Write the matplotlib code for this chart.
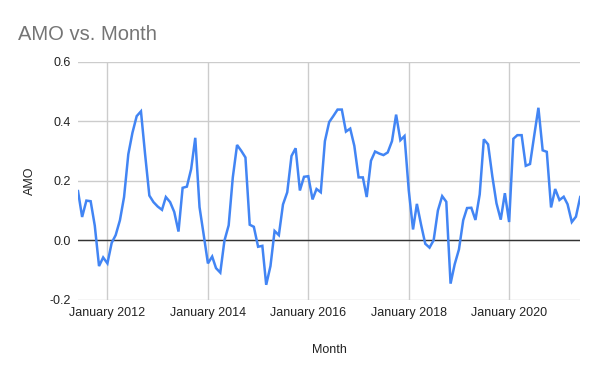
import numpy as np
import pandas as pd
import matplotlib
matplotlib.use("Agg")
import matplotlib.pyplot as plt
import matplotlib.dates as mdates

# Monthly AMO values, June 2011 .. June 2021
start_month = "2011-06-01"
amo_2011 = [0.166, 0.079, 0.134, 0.132, 0.05, -0.086, -0.057]
amo_2012 = [-0.077, -0.008, 0.018, 0.068, 0.146, 0.29, 0.362, 0.418, 0.434, 0.29, 0.151, 0.129]
amo_2013 = [0.114, 0.103, 0.146, 0.129, 0.096, 0.03, 0.177, 0.181, 0.24, 0.345, 0.112, 0.02]
amo_2014 = [-0.077, -0.054, -0.093, -0.108, -0.001, 0.051, 0.212, 0.321, 0.301, 0.279, 0.053, 0.046]
amo_2015 = [-0.021, -0.018, -0.149, -0.086, 0.032, 0.018, 0.121, 0.162, 0.284, 0.31, 0.168, 0.214]
amo_2016 = [0.216, 0.138, 0.173, 0.162, 0.334, 0.398, 0.418, 0.44, 0.44, 0.366, 0.376, 0.318]
amo_2017 = [0.212, 0.212, 0.146, 0.268, 0.299, 0.292, 0.287, 0.296, 0.334, 0.423, 0.337, 0.351]
amo_2018 = [0.168, 0.037, 0.123, 0.052, -0.011, -0.024, 0.001, 0.101, 0.149, 0.13, -0.145, -0.08]
amo_2019 = [-0.03, 0.068, 0.109, 0.11, 0.069, 0.155, 0.34, 0.323, 0.215, 0.125, 0.07, 0.159]
amo_2020 = [0.062, 0.342, 0.354, 0.354, 0.251, 0.257, 0.351, 0.446, 0.303, 0.298, 0.111, 0.173]
amo_2021 = [0.136, 0.147, 0.122, 0.062, 0.08, 0.146]

y_ticks = [-0.2, 0.0, 0.2, 0.4, 0.6]
y_tick_labels = ["-0.2", "0.0", "0.2", "0.4", "0.6"]
x_tick_years = [2012, 2014, 2016, 2018, 2020]

amo = (amo_2011 + amo_2012 + amo_2013 + amo_2014 + amo_2015 + amo_2016
       + amo_2017 + amo_2018 + amo_2019 + amo_2020 + amo_2021)
months = pd.date_range(start_month, periods=len(amo), freq="MS")

plt.rcParams["font.family"] = ["Liberation Sans", "DejaVu Sans"]

fig = plt.figure(figsize=(6.0, 3.71), dpi=100)
ax = fig.add_axes([0.13, 0.1914, 0.837, 0.6416])

ax.plot(months, amo, color="#4285F4", linewidth=1.8, solid_joinstyle="miter", zorder=3)
ax.axhline(0, color="#333333", linewidth=1.0, zorder=2)

ax.set_xlim(months[0], months[-1])
ax.set_ylim(-0.2, 0.6)
ax.set_yticks(y_ticks)
ax.set_yticklabels(y_tick_labels)
xt = [pd.Timestamp(f"{y}-01-01") for y in x_tick_years]
ax.set_xticks(xt)
ax.set_xticklabels([f"January {y}" for y in x_tick_years])

ax.grid(True, color="#cccccc", linewidth=1.0, zorder=0)
for s in ax.spines.values():
    s.set_visible(False)
ax.tick_params(length=0, labelsize=9, colors="#222222", pad=5)
ax.tick_params(axis="x", pad=5)

ax.set_xlabel("Month", fontsize=9, color="#222222", labelpad=18)
ax.set_ylabel("AMO", fontsize=9, color="#222222", labelpad=10)

fig.text(18 / 600, 1 - 40 / 371, "AMO vs. Month", fontsize=14.5, color="#757575")

fig.savefig("out.png", dpi=100)
